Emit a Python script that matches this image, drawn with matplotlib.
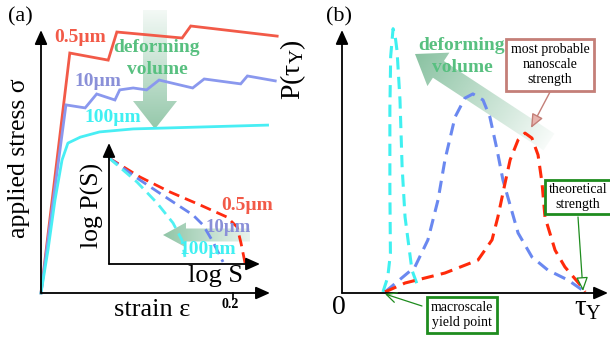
import numpy as np
import matplotlib
matplotlib.use("Agg")
import matplotlib.pyplot as plt
from matplotlib.patches import Polygon

plt.rcParams['font.family'] = ['Liberation Serif', 'DejaVu Serif']
plt.rcParams['mathtext.fontset'] = 'custom'
plt.rcParams['mathtext.rm'] = 'Liberation Serif'
plt.rcParams['mathtext.it'] = 'Liberation Serif:italic'

# ---------------- data ----------------
# panel (a): stress-strain curves (strain, normalised stress)
strain_05 = [0, 0.030, 0.070, 0.079, 0.147, 0.156, 0.246]
stress_05 = [0, 0.879, 0.853, 0.956, 0.934, 0.978, 0.941]
strain_10 = [0, 0.026, 0.046, 0.058, 0.077, 0.082, 0.096, 0.110, 0.123, 0.158, 0.170, 0.208, 0.215, 0.244]
stress_10 = [0, 0.689, 0.678, 0.729, 0.707, 0.744, 0.751, 0.744, 0.780, 0.751, 0.784, 0.766, 0.795, 0.777]
strain_100 = [0, 0.0073, 0.0146, 0.0219, 0.028, 0.041, 0.061, 0.096, 0.166, 0.236]
stress_100 = [0, 0.158, 0.341, 0.487, 0.549, 0.571, 0.590, 0.601, 0.608, 0.615]
strain_tick = 0.2

# inset: log P(S) vs log S
logS_05 = [0, 0.205, 0.404, 0.603, 0.781, 0.848, 0.874, 0.901]
logP_05 = [0.876, 0.719, 0.595, 0.488, 0.388, 0.306, 0.174, 0.008]
logS_10 = [0, 0.205, 0.404, 0.556, 0.623, 0.689, 0.755]
logP_10 = [0.876, 0.694, 0.529, 0.405, 0.322, 0.182, 0.017]
logS_100 = [0, 0.185, 0.318, 0.424, 0.483, 0.503]
logP_100 = [0.876, 0.678, 0.504, 0.339, 0.198, 0.058]

# panel (b): strength distributions P(tau_Y)
tau_100 = [0.154, 0.172, 0.182, 0.180, 0.180, 0.183, 0.192, 0.200, 0.207, 0.218, 0.226, 0.237, 0.263, 0.286]
P_100 = [0.004, 0.06, 0.15, 0.40, 0.70, 0.90, 1.005, 0.975, 0.920, 0.734, 0.479, 0.289, 0.087, 0.023]
tau_10 = [0.162, 0.274, 0.323, 0.361, 0.387, 0.425, 0.462, 0.492, 0.530, 0.556, 0.583, 0.605,
          0.662, 0.714, 0.774, 0.850, 0.914]
P_10 = [0.004, 0.099, 0.202, 0.354, 0.506, 0.669, 0.741, 0.757, 0.734, 0.669, 0.544, 0.430,
        0.228, 0.137, 0.087, 0.049, 0.004]
tau_05 = [0.162, 0.237, 0.387, 0.511, 0.564, 0.586, 0.613, 0.632, 0.662, 0.688, 0.714, 0.737,
          0.752, 0.763, 0.801, 0.838, 0.902, 0.914]
P_05 = [0.004, 0.038, 0.076, 0.125, 0.202, 0.289, 0.418, 0.506, 0.582, 0.608, 0.589, 0.525,
        0.418, 0.289, 0.163, 0.099, 0.023, 0.004]

size_labels = ['0.5µm', '10µm', '100µm']

# ---------------- figure ----------------
W, H = 610, 337
fig = plt.figure(figsize=(W / 100, H / 100), dpi=100)


def fr(x0, y0, x1, y1):
    return [x0 / W, (H - y1) / H, (x1 - x0) / W, (y1 - y0) / H]


def overlay(z):
    a = fig.add_axes([0, 0, 1, 1], zorder=z)
    a.set_xlim(0, W)
    a.set_ylim(H, 0)
    a.axis('off')
    a.patch.set_visible(False)
    a.set_autoscale_on(False)
    return a


bg = overlay(0)
fg = overlay(10)


def grad_arrow(ax, tail, tip, shaft_w, head_w, head_l, rgb, a0, a1):
    tail = np.array(tail, float)
    tip = np.array(tip, float)
    d = tip - tail
    L = np.hypot(*d)
    u = d / L
    n = np.array([-u[1], u[0]])
    base = tip - u * head_l
    pts = np.array([tail + n * shaft_w / 2, base + n * shaft_w / 2, base + n * head_w / 2, tip,
                    base - n * head_w / 2, base - n * shaft_w / 2, tail - n * shaft_w / 2])
    poly = Polygon(pts, closed=True, fc='none', ec='none', transform=ax.transData)
    ax.add_patch(poly)
    x0, y0 = pts.min(axis=0) - 1
    x1, y1 = pts.max(axis=0) + 1
    nx, ny = int(x1 - x0) * 2 + 2, int(y1 - y0) * 2 + 2
    X, Y = np.meshgrid(np.linspace(x0, x1, nx), np.linspace(y0, y1, ny))
    t = np.clip(((X - tail[0]) * u[0] + (Y - tail[1]) * u[1]) / L, 0, 1)
    img = np.zeros((ny, nx, 4))
    img[..., 0] = rgb[0]
    img[..., 1] = rgb[1]
    img[..., 2] = rgb[2]
    img[..., 3] = a0 + (a1 - a0) * t
    im = ax.imshow(img, extent=(x0, x1, y1, y0), origin='upper', interpolation='bilinear', zorder=1)
    im.set_clip_path(poly)
    ax.set_aspect('auto')
    ax.set_xlim(0, W)
    ax.set_ylim(H, 0)


green_rgb = (0.42, 0.70, 0.54)
grad_arrow(bg, (155, 10), (155, 129), 24, 44, 28, green_rgb, 0.08, 0.72)
grad_arrow(bg, (549, 142), (415, 54), 20, 40, 28, green_rgb, 0.05, 0.8)
grad_arrow(bg, (250, 235), (163, 235), 13, 25, 23, green_rgb, 0.15, 0.75)

arrow_kw = dict(arrowstyle='-|>,head_length=0.85,head_width=0.38', lw=1.3, color='k',
                shrinkA=0, shrinkB=0, mutation_scale=10)


def setup(ax, xlim, ylim):
    ax.set_xlim(*xlim)
    ax.set_ylim(*ylim)
    ax.axis('off')
    ax.patch.set_visible(False)


# panel (a)
axa = fig.add_axes(fr(41, 20, 281, 293), zorder=2)
setup(axa, (0, 0.25), (0, 1))
c_red_a, c_blue_a, c_cyan_a = '#f25a48', '#8a98ee', '#48eef4'
axa.plot(strain_05, stress_05, color=c_red_a, lw=2.0, clip_on=False, solid_joinstyle='miter')
axa.plot(strain_10, stress_10, color=c_blue_a, lw=2.0, clip_on=False, solid_joinstyle='miter')
axa.plot(strain_100, stress_100, color=c_cyan_a, lw=2.0, clip_on=False)
axa.annotate('', xy=(0, 0.963), xytext=(0, 0), arrowprops=arrow_kw, annotation_clip=False)
axa.annotate('', xy=(0.2385, 0), xytext=(0, 0), arrowprops=arrow_kw, annotation_clip=False)
axa.plot([strain_tick, strain_tick], [0, -0.022], color='k', lw=1.2, clip_on=False)

# inset
axi = fig.add_axes(fr(109, 143, 260, 264), zorder=3)
setup(axi, (0, 1), (0, 1))
dash = (4, 2.2)
axi.plot(logS_05, logP_05, color='#ff2a10', lw=2.0, dashes=dash, clip_on=False)
axi.plot(logS_10, logP_10, color='#6a84ee', lw=2.0, dashes=dash, clip_on=False)
axi.plot(logS_100, logP_100, color='#50f0f2', lw=2.0, dashes=dash, clip_on=False)
axi.annotate('', xy=(0, 1), xytext=(0, 0), arrowprops=arrow_kw, annotation_clip=False)
axi.annotate('', xy=(1, 0), xytext=(0, 0), arrowprops=arrow_kw, annotation_clip=False)

# panel (b)
axb = fig.add_axes(fr(342, 30, 608, 293), zorder=2)
setup(axb, (0, 1), (0, 1))
dash_b = (4, 2.4)
axb.plot(tau_100, P_100, color='#3ff0f0', lw=2.2, dashes=dash_b, clip_on=False)
axb.plot(tau_10, P_10, color='#6a88f0', lw=2.2, dashes=dash_b, clip_on=False)
axb.plot(tau_05, P_05, color='#ff2a0a', lw=2.2, dashes=dash_b, clip_on=False)
axb.annotate('', xy=(0, 1), xytext=(0, 0), arrowprops=arrow_kw, annotation_clip=False)
axb.annotate('', xy=(1, 0), xytext=(0, 0), arrowprops=arrow_kw, annotation_clip=False)

# ---------------- texts ----------------
def T(x, y, s, **kw):
    kw.setdefault('ha', 'center')
    kw.setdefault('va', 'center')
    fg.text(x, y, s, **kw)


T(20, 17, '(a)', fontsize=16)
T(339, 17, '(b)', fontsize=16)
T(19, 158, 'applied stress σ', fontsize=18.5, rotation=90)
T(152, 310, 'strain ε', fontsize=19)
T(230, 304, '0.2', fontsize=10, fontweight='bold')
T(92, 205, 'log P(S)', fontsize=18.5, rotation=90)
T(216, 276, 'log S', fontsize=19)
T(293, 70, r'$\mathrm{P(τ_Y)}$', fontsize=20, rotation=90)
T(339, 308, '0', fontsize=20)
T(588, 309, r'$\mathrm{τ_Y}$', fontsize=21)

green_txt = '#58c080'
T(80, 37, size_labels[0], fontsize=14, fontweight='bold', color='#f25a48')
T(98, 81, size_labels[1], fontsize=14, fontweight='bold', color='#8a90d8')
T(113, 118, size_labels[2], fontsize=14, fontweight='bold', color='#40f0f2')
T(157, 48, 'deforming', fontsize=14, fontweight='bold', color=green_txt)
T(157, 70, 'volume', fontsize=14, fontweight='bold', color=green_txt)

T(247, 205, size_labels[0], fontsize=14, fontweight='bold', color='#f25a48')
T(228, 227, size_labels[1], fontsize=13.5, fontweight='bold', color='#8a90d8')
T(208, 250, size_labels[2], fontsize=14, fontweight='bold', color='#40f0f2')

T(462, 45, 'deforming', fontsize=14, fontweight='bold', color=green_txt)
T(462, 67, 'volume', fontsize=14, fontweight='bold', color=green_txt)

T(550, 65, 'most probable\nnanoscale\nstrength', fontsize=10, linespacing=1.2,
  bbox=dict(boxstyle='square,pad=0.3', fc='white', ec='#c47f78', lw=2))
T(578, 197, 'theoretical\nstrength', fontsize=10, linespacing=1.2,
  bbox=dict(boxstyle='square,pad=0.25', fc='white', ec='#1e8c1e', lw=2))
T(462, 315, 'macroscale\nyield point', fontsize=10, linespacing=1.2,
  bbox=dict(boxstyle='square,pad=0.3', fc='white', ec='#1e8c1e', lw=2))

fg.annotate('', xy=(531, 128), xytext=(550, 92),
            arrowprops=dict(arrowstyle='-|>,head_length=0.7,head_width=0.3', lw=1.0,
                            color='#c47f78', fc='#e8b4ae', shrinkA=0, shrinkB=0, mutation_scale=12))
fg.annotate('', xy=(583, 291), xytext=(578, 217),
            arrowprops=dict(arrowstyle='-|>,head_length=0.7,head_width=0.3', lw=0.9,
                            color='#1e8c1e', fc='white', shrinkA=0, shrinkB=0, mutation_scale=12))
fg.annotate('', xy=(385, 294), xytext=(422, 306),
            arrowprops=dict(arrowstyle='->,head_length=0.6,head_width=0.3', lw=0.9,
                            color='#1e8c1e', shrinkA=0, shrinkB=0, mutation_scale=12))

fig.savefig('out.png', dpi=100)
